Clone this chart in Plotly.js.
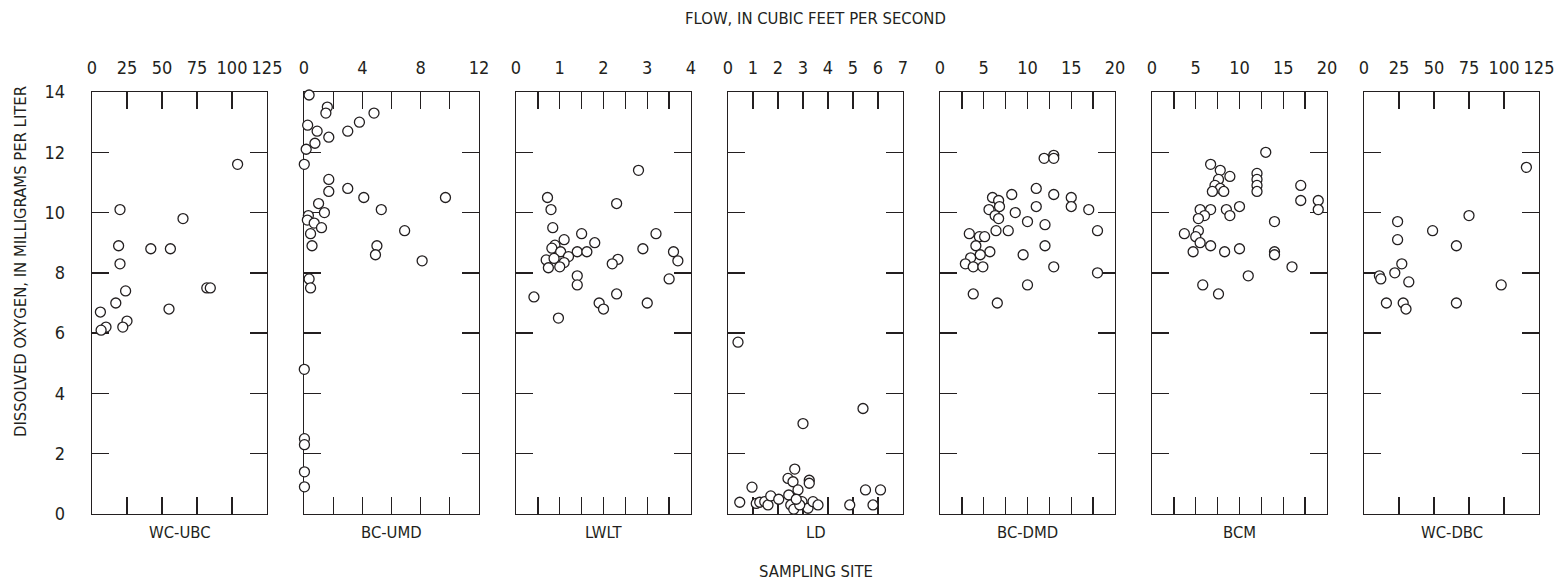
<!DOCTYPE html>
<html>
<head>
<meta charset="utf-8">
<script src="https://cdn.plot.ly/plotly-3.0.1.min.js"></script>
<style>
  html, body { margin: 0; padding: 0; background: #ffffff; }
  #chart { width: 1568px; height: 587px; }
</style>
</head>
<body>
<div id="chart"></div>
<script>
// ---- Data (flow in cfs, dissolved oxygen in mg/L) ----
const siteNames = ["WC-UBC", "BC-UMD", "LWLT", "LD", "BC-DMD", "BCM", "WC-DBC"];

const wcubcFlow = [104, 20, 65, 19, 42, 56, 20, 24, 82, 84.5, 17, 6, 55, 25, 10, 6.5, 22];
const wcubcDO   = [11.6, 10.1, 9.8, 8.9, 8.8, 8.8, 8.3, 7.4, 7.5, 7.5, 7.0, 6.7, 6.8, 6.4, 6.2, 6.1, 6.2];

const bcumdFlow = [0.35, 1.6, 1.5, 4.8, 3.8, 0.25, 0.9, 3.0, 1.7, 0.75, 0.15, 0.02, 1.7, 1.7, 3.0, 4.1, 9.7,
                   1.0, 5.3, 1.4, 0.3, 0.23, 0.7, 1.2, 0.45, 6.9, 0.55, 5.0, 4.9, 8.1, 0.35, 0.45, 0.02, 0.03, 0.03, 0.03, 0.03];
const bcumdDO   = [13.9, 13.5, 13.3, 13.3, 13.0, 12.9, 12.7, 12.7, 12.5, 12.3, 12.1, 11.6, 11.1, 10.7, 10.8, 10.5, 10.5,
                   10.3, 10.1, 10.0, 9.9, 9.75, 9.65, 9.5, 9.3, 9.4, 8.9, 8.9, 8.6, 8.4, 7.8, 7.5, 4.8, 2.5, 2.3, 1.4, 0.9];

const lwltFlow = [2.8, 0.72, 0.8, 2.3, 0.84, 1.5, 3.2, 1.1, 1.8, 0.89, 0.82, 2.9, 1.02, 1.4, 1.62, 3.6, 1.2,
                  0.69, 0.87, 1.1, 0.74, 1.0, 2.33, 2.2, 3.7, 1.4, 1.4, 3.5, 0.41, 2.3, 1.9, 2.0, 3.0, 0.97];
const lwltDO   = [11.4, 10.5, 10.1, 10.3, 9.5, 9.3, 9.3, 9.1, 9.0, 8.92, 8.82, 8.8, 8.7, 8.7, 8.7, 8.7, 8.54,
                  8.43, 8.48, 8.34, 8.17, 8.2, 8.45, 8.3, 8.4, 7.9, 7.6, 7.8, 7.2, 7.3, 7.0, 6.8, 7.0, 6.5];

const ldFlow = [0.4, 5.4, 3.0, 0.47, 0.96, 1.13, 1.27, 1.47, 1.6, 1.71, 2.03, 2.4, 2.67, 2.6, 2.43, 2.8, 2.51,
                2.63, 2.96, 3.25, 3.25, 3.2, 3.4, 3.6, 2.87, 2.73, 4.87, 5.5, 6.1, 5.8];
const ldDO   = [5.7, 3.5, 3.0, 0.39, 0.89, 0.35, 0.39, 0.41, 0.3, 0.6, 0.49, 1.18, 1.49, 1.07, 0.63, 0.8, 0.3,
                0.16, 0.41, 1.12, 1.02, 0.19, 0.41, 0.3, 0.3, 0.49, 0.3, 0.8, 0.8, 0.3];

const bcdmdFlow = [13.0, 11.9, 13.0, 11.0, 8.2, 13.0, 15.0, 6.0, 6.7, 6.8, 11.0, 15.0, 5.6, 17.0, 8.6, 6.3, 6.7,
                   10.0, 12.0, 3.35, 4.5, 5.1, 6.4, 7.8, 18.0, 4.1, 12.0, 5.7, 4.6, 3.5, 9.5, 2.9, 3.8, 4.9, 13.0,
                   18.0, 10.0, 3.8, 6.55];
const bcdmdDO   = [11.9, 11.8, 11.8, 10.8, 10.6, 10.6, 10.5, 10.5, 10.4, 10.2, 10.2, 10.2, 10.1, 10.1, 10.0, 9.9, 9.8,
                   9.7, 9.6, 9.3, 9.2, 9.2, 9.4, 9.4, 9.4, 8.9, 8.9, 8.7, 8.6, 8.5, 8.6, 8.3, 8.2, 8.2, 8.2,
                   8.0, 7.6, 7.3, 7.0];

const bcmFlow = [13.0, 6.7, 7.8, 12.0, 8.9, 7.6, 12.0, 7.2, 12.0, 17.0, 7.8, 6.9, 8.2, 12.0, 17.0, 19.0, 19.0,
                 10.0, 5.5, 6.7, 8.5, 8.9, 6.0, 5.3, 14.0, 5.3, 3.7, 5.0, 5.5, 6.7, 4.7, 8.3, 10.0, 14.0, 14.0,
                 16.0, 11.0, 5.8, 7.6];
const bcmDO   = [12.0, 11.6, 11.4, 11.3, 11.2, 11.1, 11.1, 10.9, 10.9, 10.9, 10.8, 10.7, 10.7, 10.7, 10.4, 10.4, 10.1,
                 10.2, 10.1, 10.1, 10.1, 9.9, 9.9, 9.8, 9.7, 9.4, 9.3, 9.2, 9.0, 8.9, 8.7, 8.7, 8.8, 8.7, 8.6,
                 8.2, 7.9, 7.6, 7.3];

const wcdbcFlow = [116, 75, 24, 49, 24, 66, 27, 22, 11, 12, 32, 98, 16, 28, 30, 66];
const wcdbcDO   = [11.5, 9.9, 9.7, 9.4, 9.1, 8.9, 8.3, 8.0, 7.9, 7.8, 7.7, 7.6, 7.0, 7.0, 6.8, 7.0];

const flows = [wcubcFlow, bcumdFlow, lwltFlow, ldFlow, bcdmdFlow, bcmFlow, wcdbcFlow];
const dos   = [wcubcDO, bcumdDO, lwltDO, ldDO, bcdmdDO, bcmDO, wcdbcDO];

// axis ranges and tick spacing per panel
const xMax      = [125, 12, 4, 7, 20, 20, 125];
const xLabelDt  = [25, 4, 1, 1, 5, 5, 25];
const xMinorDt  = [null, 2, 0.5, null, 2.5, 2.5, null];

// ---- Styling ----
const ink = "#231f20";
const fontFam = "'Liberation Sans Narrow', 'DejaVu Sans Condensed', 'Arial Narrow', sans-serif";
const tickFont = { family: fontFam, size: 18, color: ink };
const titleFont = { family: fontFam, size: 16.5, color: ink };

const W = 1568, H = 587;
const mL = 92, mR = 29, mT = 92, mB = 73;
const plotW = W - mL - mR;   // 1447
const plotH = H - mT - mB;   // 422
const panelW = 175, stride = 212;

const traces = [];
const layout = {
  width: W, height: H,
  margin: { l: mL, r: mR, t: mT, b: mB, pad: 0 },
  paper_bgcolor: "#ffffff",
  plot_bgcolor: "#ffffff",
  showlegend: false,
  annotations: [],
  font: { family: fontFam, color: ink }
};

for (let k = 0; k < 7; k++) {
  const xa = k === 0 ? "xaxis" : "xaxis" + (k + 1);
  const ya = k === 0 ? "yaxis" : "yaxis" + (k + 1);
  const xr = k === 0 ? "x" : "x" + (k + 1);
  const yr = k === 0 ? "y" : "y" + (k + 1);

  traces.push({
    type: "scatter", mode: "markers",
    x: flows[k], y: dos[k],
    xaxis: xr, yaxis: yr,
    cliponaxis: false,
    marker: { symbol: "circle", size: 10, color: "#ffffff", line: { color: ink, width: 1.3 } },
    hoverinfo: "x+y"
  });

  const d0 = (k * stride) / plotW;
  const d1 = Math.min(1, (k * stride + panelW) / plotW);

  const xaxis = {
    domain: [d0, d1],
    anchor: yr,
    side: "top",
    range: [0, xMax[k]],
    tick0: 0, dtick: xLabelDt[k],
    ticks: "inside", ticklen: 17, tickwidth: 1.3, tickcolor: ink,
    showline: true, linecolor: ink, linewidth: 1.4, mirror: "ticks",
    showgrid: false, zeroline: false,
    tickfont: tickFont,
    ticklabelstandoff: 9,
    layer: "below traces",
    fixedrange: true
  };
  if (xMinorDt[k]) {
    xaxis.minor = { dtick: xMinorDt[k], tick0: 0, ticks: "inside", ticklen: 17, tickwidth: 1.3, tickcolor: ink, showgrid: false };
  }
  layout[xa] = xaxis;

  layout[ya] = {
    domain: [0, 1],
    anchor: xr,
    range: [0, 14],
    tick0: 0, dtick: 2,
    ticks: "inside", ticklen: 17, tickwidth: 1.3, tickcolor: ink,
    showline: true, linecolor: ink, linewidth: 1.4, mirror: "ticks",
    showgrid: false, zeroline: false,
    showticklabels: k === 0,
    tickfont: tickFont,
    ticklabelstandoff: 22,
    layer: "below traces",
    fixedrange: true
  };

  layout.annotations.push({
    text: siteNames[k],
    xref: xr + " domain", yref: "paper",
    x: 0.5, y: -0.043, xanchor: "center", yanchor: "middle",
    showarrow: false, font: titleFont
  });
}

layout.annotations.push({
  text: "FLOW, IN CUBIC FEET PER SECOND",
  xref: "paper", yref: "paper", x: 0.5, y: 1.175,
  xanchor: "center", yanchor: "middle", showarrow: false, font: titleFont
});
layout.annotations.push({
  text: "SAMPLING SITE",
  xref: "paper", yref: "paper", x: 0.5, y: -0.137,
  xanchor: "center", yanchor: "middle", showarrow: false, font: titleFont
});
layout.annotations.push({
  text: "DISSOLVED OXYGEN, IN MILLIGRAMS PER LITER",
  xref: "paper", yref: "paper", x: (20 - mL) / plotW, y: (514 - 262) / plotH,
  xanchor: "center", yanchor: "middle", textangle: -90, showarrow: false, font: titleFont
});

Plotly.newPlot("chart", traces, layout, { displayModeBar: false, staticPlot: true });
</script>
</body>
</html>
